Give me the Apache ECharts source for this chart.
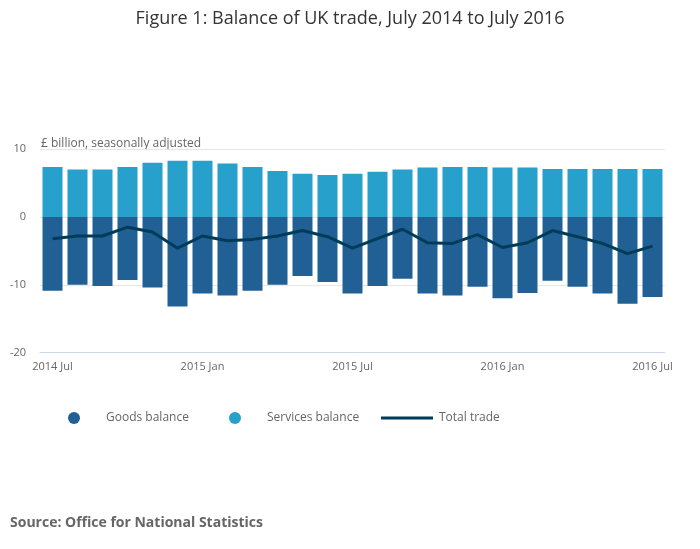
<!DOCTYPE html>
<html><head><meta charset="utf-8">
<script src="https://cdn.jsdelivr.net/npm/echarts@6/dist/echarts.min.js"></script>
<style>html,body{margin:0;padding:0;background:#fff}#c{width:700px;height:549px}</style>
</head><body><div id="c"></div>
<script>
var months = ['2014 Jul','2014 Aug','2014 Sep','2014 Oct','2014 Nov','2014 Dec','2015 Jan','2015 Feb','2015 Mar','2015 Apr','2015 May','2015 Jun','2015 Jul','2015 Aug','2015 Sep','2015 Oct','2015 Nov','2015 Dec','2016 Jan','2016 Feb','2016 Mar','2016 Apr','2016 May','2016 Jun','2016 Jul'];
var tickLabels = ['2014 Jul','2015 Jan','2015 Jul','2016 Jan','2016 Jul'];
var goods = [-10.9,-10.0,-10.2,-9.3,-10.4,-13.2,-11.3,-11.6,-10.9,-10.0,-8.7,-9.6,-11.3,-10.2,-9.1,-11.3,-11.6,-10.3,-12.0,-11.2,-9.4,-10.3,-11.3,-12.8,-11.8];
var services = [7.4,7.0,7.0,7.4,8.0,8.3,8.3,7.9,7.4,6.8,6.4,6.2,6.4,6.7,7.0,7.3,7.4,7.4,7.3,7.3,7.1,7.1,7.1,7.1,7.1];
var total = [-3.2,-2.8,-2.8,-1.5,-2.2,-4.6,-2.8,-3.5,-3.3,-2.8,-2.0,-2.9,-4.6,-3.2,-1.8,-3.8,-3.9,-2.6,-4.5,-3.8,-2.0,-2.9,-3.9,-5.4,-4.3];

var font = '"Open Sans", "Noto Sans", sans-serif';
var legendText = {fontFamily:font,fontSize:12,color:'#666666'};
var chart = echarts.init(document.getElementById('c'), null, {renderer:'canvas'});
chart.setOption({
  animation:false,
  textStyle:{fontFamily:font},
  title:{
    text:'Figure 1: Balance of UK trade, July 2014 to July 2016',
    left:'center', top:5,
    textStyle:{fontFamily:font,fontSize:18,fontWeight:'normal',color:'#333333'}
  },
  graphic:[
    {type:'text',left:41,top:138,style:{text:'£ billion, seasonally adjusted',font:'12px '+font,fill:'#666666'}},
    {type:'text',left:10,top:516,style:{text:'Source: Office for National Statistics',font:'bold 14px '+font,fill:'#666666'}}
  ],
  legend:[
    {left:68, top:412, padding:0, itemWidth:12, itemHeight:12,
     textStyle:Object.assign({padding:[0,0,0,21]},legendText),
     data:[{name:'Goods balance',icon:'circle'}]},
    {left:229, top:412, padding:0, itemWidth:12, itemHeight:12,
     textStyle:Object.assign({padding:[0,0,0,21]},legendText),
     data:[{name:'Services balance',icon:'circle'}]},
    {left:381, top:412, padding:0, itemWidth:52, itemHeight:3,
     textStyle:Object.assign({padding:[0,0,0,1]},legendText),
     data:[{name:'Total trade',icon:'rect'}]}
  ],
  grid:{left:40,right:35,top:149.3,bottom:196.5,containLabel:false},
  xAxis:{
    type:'category', data:months,
    axisLine:{onZero:false,lineStyle:{color:'#ccd6eb',width:1}},
    axisTick:{alignWithLabel:true,length:6,lineStyle:{color:'#ccd6eb'},
      interval:function(i,v){return tickLabels.indexOf(v)>=0;}},
    axisLabel:{color:'#666666',fontSize:11,fontFamily:font,margin:9,
      interval:function(i,v){return tickLabels.indexOf(v)>=0;}}
  },
  yAxis:{
    type:'value', min:-20, max:10, interval:10,
    axisLine:{show:false}, axisTick:{show:false},
    splitLine:{lineStyle:{color:'#e6e6e6',width:1}},
    axisLabel:{color:'#666666',fontSize:11,fontFamily:font,margin:14,padding:[3,0,0,0]}
  },
  series:[
    {name:'Goods balance',type:'bar',stack:'a',data:goods,barCategoryGap:'20%',itemStyle:{color:'#206095'}},
    {name:'Services balance',type:'bar',stack:'a',data:services,barCategoryGap:'20%',itemStyle:{color:'#27a0cc'}},
    {name:'Total trade',type:'line',data:total,symbol:'none',lineStyle:{color:'#003c57',width:3},itemStyle:{color:'#003c57'},z:5}
  ]
});
</script></body></html>
